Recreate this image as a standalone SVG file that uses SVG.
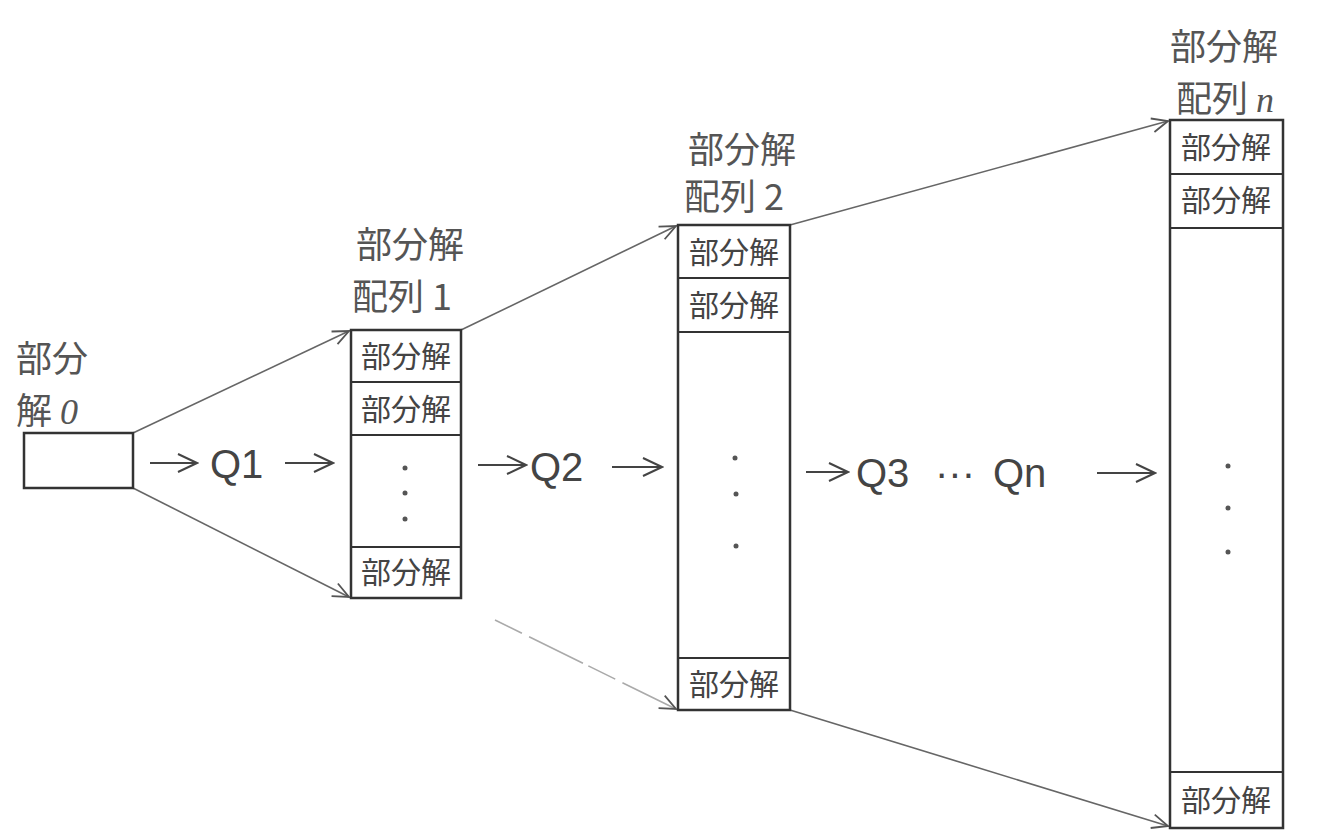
<svg xmlns="http://www.w3.org/2000/svg" width="1334" height="832" viewBox="0 0 1334 832">
<style>
.box{fill:#fff;stroke:#333;stroke-width:2.5}
.sep{stroke:#333;stroke-width:2}
.cell{font-family:"Noto Sans CJK JP","Noto Sans CJK SC",sans-serif;font-size:30px;fill:#444;text-anchor:middle}
.lbl{font-family:"Noto Sans CJK JP","Noto Sans CJK SC",sans-serif;font-size:36px;fill:#555}
.q{font-family:"Liberation Sans","Noto Sans",sans-serif;font-size:40px;fill:#444}
.con{stroke:#666;stroke-width:1.6;fill:none}
.fl{stroke:#444;stroke-width:2;fill:none}
.dot{fill:#555}
</style>
<defs>
<marker id="ah" viewBox="0 0 20 20" refX="18" refY="10" markerWidth="20" markerHeight="20" markerUnits="userSpaceOnUse" orient="auto">
<path d="M2,3 L18,10 L2,17" fill="none" stroke="#555" stroke-width="1.8"/>
</marker>
<marker id="ahb" viewBox="0 0 24 24" refX="22" refY="12" markerWidth="24" markerHeight="24" markerUnits="userSpaceOnUse" orient="auto">
<path d="M3,3 L22,12 L3,21" fill="none" stroke="#444" stroke-width="2"/>
</marker>
</defs>
<rect width="1334" height="832" fill="#fff"/>

<g id="connectors">
<line class="con" x1="133" y1="433" x2="349" y2="331" marker-end="url(#ah)"/>
<line class="con" x1="133" y1="488" x2="349" y2="597" marker-end="url(#ah)"/>
<line class="con" x1="461" y1="330" x2="676" y2="226" marker-end="url(#ah)"/>
<line class="con" x1="495" y1="620" x2="676" y2="709" style="stroke:#aaa;stroke-dasharray:30 8 60 6" marker-end="url(#ah)"/>
<line class="con" x1="790" y1="225" x2="1168" y2="121" marker-end="url(#ah)"/>
<line class="con" x1="790" y1="710" x2="1168" y2="826" marker-end="url(#ah)"/>
</g>

<g id="flow">
<line class="fl" x1="150" y1="463" x2="197" y2="463" marker-end="url(#ahb)"/>
<text class="q" x="210" y="478">Q1</text>
<line class="fl" x1="285" y1="463" x2="333" y2="463" marker-end="url(#ahb)"/>
<line class="fl" x1="478" y1="465" x2="526" y2="465" marker-end="url(#ahb)"/>
<text class="q" x="530" y="481">Q2</text>
<line class="fl" x1="612" y1="467" x2="662" y2="467" marker-end="url(#ahb)"/>
<line class="fl" x1="806" y1="472" x2="848" y2="472" marker-end="url(#ahb)"/>
<text class="q" x="856" y="487">Q3</text>
<text class="q" x="935" y="487" font-size="30">···</text>
<text class="q" x="993" y="487">Qn</text>
<line class="fl" x1="1097" y1="473" x2="1155" y2="473" marker-end="url(#ahb)"/>
</g>

<g id="node0">
<text class="lbl" x="16" y="372" font-size="42">部分</text>
<text class="lbl" x="16" y="424" font-size="42">解 <tspan font-family="Liberation Serif" font-style="italic">0</tspan></text>
<rect class="box" x="24" y="433" width="109" height="55"/>
</g>

<g id="array1">
<text class="lbl" x="356" y="258" font-size="38">部分解</text>
<text class="lbl" x="352" y="310" font-size="38">配列 1</text>
<rect class="box" x="351" y="330" width="110" height="268"/>
<line class="sep" x1="351" y1="382" x2="461" y2="382"/>
<line class="sep" x1="351" y1="435" x2="461" y2="435"/>
<line class="sep" x1="351" y1="547" x2="461" y2="547"/>
<text class="cell" x="406" y="367">部分解</text>
<text class="cell" x="406" y="420">部分解</text>
<circle class="dot" cx="405" cy="468" r="2.5"/>
<circle class="dot" cx="405" cy="493" r="2.5"/>
<circle class="dot" cx="405" cy="519" r="2.5"/>
<text class="cell" x="406" y="583">部分解</text>
</g>

<g id="array2">
<text class="lbl" x="688" y="163" font-size="46">部分解</text>
<text class="lbl" x="684" y="210" font-size="44">配列 2</text>
<rect class="box" x="678" y="225" width="112" height="485"/>
<line class="sep" x1="678" y1="278" x2="790" y2="278"/>
<line class="sep" x1="678" y1="332" x2="790" y2="332"/>
<line class="sep" x1="678" y1="658" x2="790" y2="658"/>
<text class="cell" x="734" y="263">部分解</text>
<text class="cell" x="734" y="316">部分解</text>
<circle class="dot" cx="735" cy="458" r="2.5"/>
<circle class="dot" cx="736" cy="494" r="2.5"/>
<circle class="dot" cx="736" cy="546" r="2.5"/>
<text class="cell" x="734" y="695">部分解</text>
</g>

<g id="arrayn">
<text class="lbl" x="1170" y="60" font-size="50">部分解</text>
<text class="lbl" x="1176" y="112" font-size="46">配列 <tspan font-family="Liberation Serif" font-style="italic">n</tspan></text>
<rect class="box" x="1170" y="120" width="113" height="708"/>
<line class="sep" x1="1170" y1="174" x2="1283" y2="174"/>
<line class="sep" x1="1170" y1="228" x2="1283" y2="228"/>
<line class="sep" x1="1170" y1="772" x2="1283" y2="772"/>
<text class="cell" x="1226" y="158">部分解</text>
<text class="cell" x="1226" y="211">部分解</text>
<circle class="dot" cx="1228" cy="466" r="2.5"/>
<circle class="dot" cx="1228" cy="508" r="2.5"/>
<circle class="dot" cx="1228" cy="552" r="2.5"/>
<text class="cell" x="1226" y="811">部分解</text>
</g>
</svg>
